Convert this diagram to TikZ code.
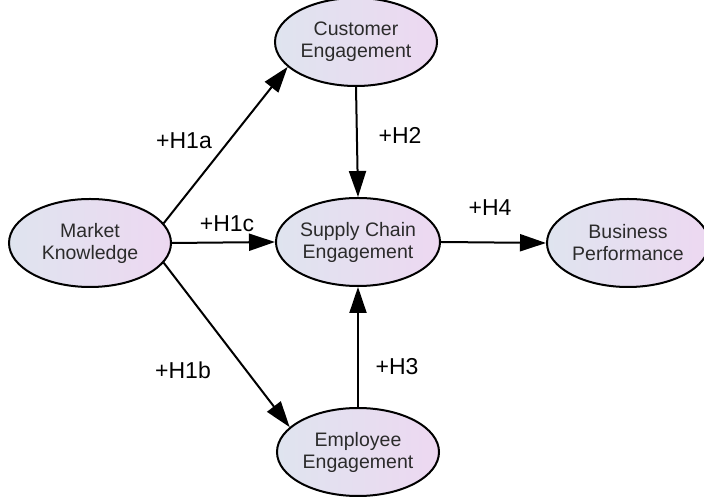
\documentclass[tikz,border=0pt]{standalone}
\usepackage{fontspec}
\setmainfont{Liberation Sans}
\usetikzlibrary{shapes.geometric,arrows.meta}
\definecolor{ovLeft}{HTML}{DFE4EF}
\definecolor{ovRight}{HTML}{EDD8F1}
\definecolor{txGray}{HTML}{2B2B2B}

\begin{document}
\begin{tikzpicture}[x=1pt,y=1pt,
  construct/.style={ellipse,draw=black,line width=2pt,left color=ovLeft,right color=ovRight,
    minimum width=162pt,minimum height=88pt,inner sep=0pt,align=center,text=txGray,
    font=\fontsize{19.5}{22}\selectfont},
  path/.style={line width=2pt,-{Triangle[length=26pt,width=17pt]}},
  hyp/.style={font=\fontsize{23}{26}\selectfont,text=black}]
  \useasboundingbox (0,0) rectangle (704,497);
  \node[construct] (mk)  at (90,254)  {Market\\Knowledge};
  \node[construct] (ce)  at (356,455) {Customer\\Engagement};
  \node[construct] (sce) at (358,255) {Supply Chain\\Engagement};
  \node[construct] (bp)  at (628,254) {Business\\Performance};
  \node[construct] (ee)  at (358,45)  {Employee\\Engagement};
  \draw[path] (mk.15) -- (ce.200);
  \draw[path] (mk.east) -- (sce.west);
  \draw[path] (mk.-15) -- (ee.160);
  \draw[path] (ce.south) -- (sce.north);
  \draw[path] (ee.north) -- (sce.south);
  \draw[path] (sce.east) -- (bp.west);
  \node[hyp] (h1a) at (184,356) {+H1a};
  \node[hyp] (h1c) at (227,273) {+H1c};
  \node[hyp] (h1b) at (183,127) {+H1b};
  \node[hyp] (h2)  at (400,362) {+H2};
  \node[hyp] (h3)  at (397,130) {+H3};
  \node[hyp] (h4)  at (490,289) {+H4};
\end{tikzpicture}
\end{document}
